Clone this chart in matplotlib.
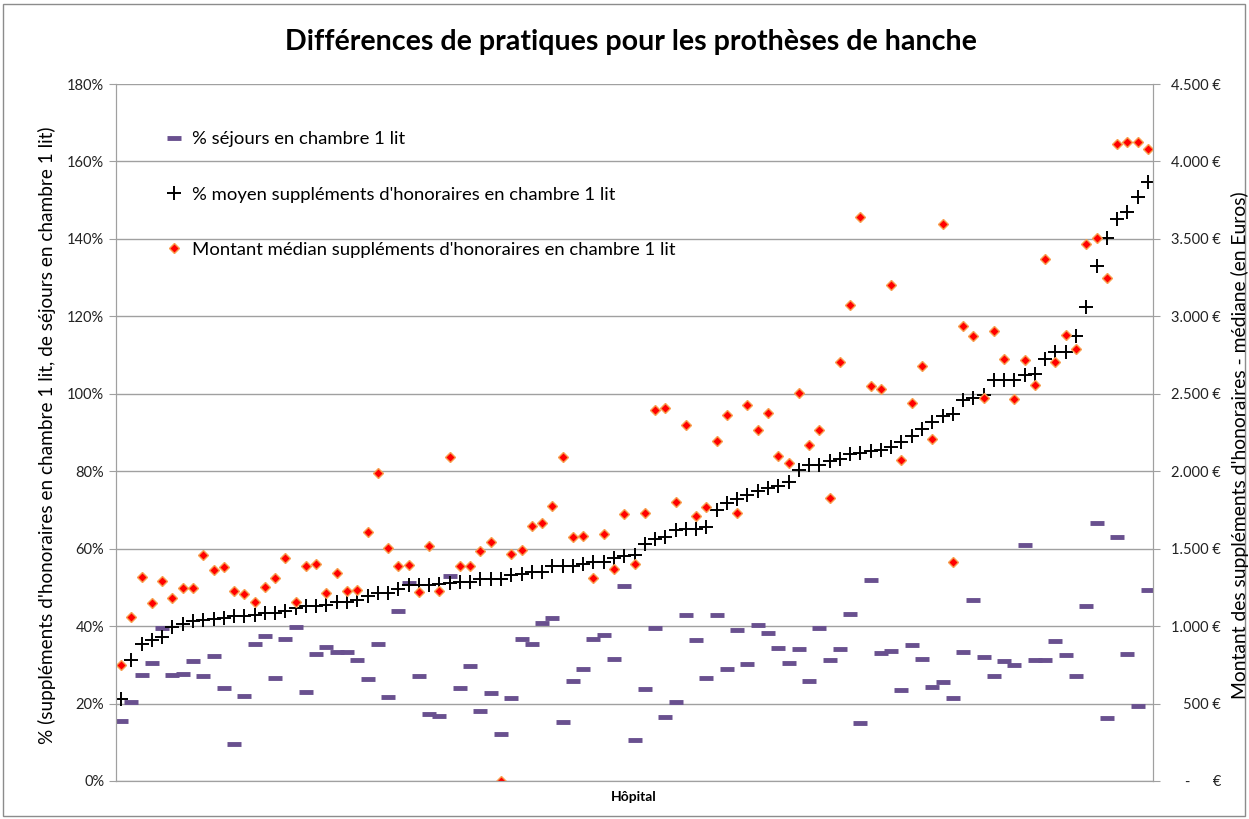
import matplotlib.pyplot as plt
from matplotlib.patches import Rectangle
from matplotlib.ticker import FuncFormatter, MultipleLocator

plt.rcParams['font.family'] = ['Lato', 'DejaVu Sans']

# % séjours en chambre 1 lit
sejours = [15.4, 20.3, 27.3, 30.5, 39.5, 27.5, 27.7, 31.1, 27.1, 32.4,
           23.9, 9.5, 22.0, 35.5, 37.5, 26.6, 36.8, 39.8, 23.0, 32.8,
           34.7, 33.2, 33.4, 31.3, 26.3, 35.5, 21.6, 43.8, 51.2, 27.1,
           17.2, 16.7, 52.9, 23.9, 29.8, 18.2, 22.8, 12.1, 21.4, 36.8,
           35.3, 40.7, 42.1, 15.2, 25.8, 28.8, 36.6, 37.7, 31.4, 50.4,
           10.5, 23.8, 39.5, 16.6, 20.5, 42.8, 36.5, 26.7, 42.8, 29.0,
           39.0, 30.1, 40.3, 38.2, 34.4, 30.6, 34.0, 25.9, 39.5, 31.3,
           34.0, 43.0, 15.1, 51.8, 33.1, 33.6, 23.5, 35.2, 31.4, 24.4,
           25.5, 21.5, 33.3, 46.7, 32.0, 27.2, 31.1, 29.9, 61.0, 31.2,
           31.2, 36.1, 32.6, 27.2, 45.1, 66.6, 16.2, 63.1, 32.8, 19.4,
           49.4]

# % moyen suppléments d'honoraires en chambre 1 lit
moyen = [21.3, 31.2, 35.3, 36.5, 37.3, 39.7, 40.5, 41.4, 41.6, 41.8,
         42.2, 42.7, 42.7, 42.8, 43.3, 43.5, 43.8, 44.8, 45.1, 45.3,
         45.5, 46.1, 46.1, 46.8, 47.8, 48.5, 48.5, 49.7, 50.5, 50.5,
         50.5, 50.9, 51.1, 51.3, 51.5, 52.2, 52.2, 52.2, 53.2, 53.4,
         53.9, 53.9, 55.4, 55.4, 55.4, 56.0, 56.6, 56.6, 57.6, 58.0,
         58.3, 61.2, 62.6, 63.1, 64.8, 65.2, 65.2, 65.7, 69.9, 71.8,
         72.8, 73.8, 75.0, 75.7, 76.2, 77.2, 80.3, 81.7, 81.7, 82.7,
         83.2, 84.5, 84.8, 85.1, 85.5, 86.3, 87.5, 89.2, 90.9, 92.7,
         94.3, 94.9, 98.4, 99.0, 99.8, 103.5, 103.5, 103.5, 104.9, 105.2,
         108.9, 110.9, 110.9, 114.9, 122.5, 133.0, 140.3, 145.2, 146.9, 150.7,
         154.7]

# Montant médian suppléments d'honoraires (€)
montant = [748, 1056, 1315, 1146, 1293, 1179, 1243, 1246, 1459, 1364,
           1379, 1228, 1207, 1153, 1254, 1310, 1437, 1157, 1386, 1401,
           1213, 1343, 1224, 1235, 1605, 1987, 1506, 1390, 1394, 1218,
           1519, 1224, 2095, 1386, 1390, 1483, 1541, 0, 1465, 1493,
           1649, 1666, 1778, 2095, 1573, 1584, 1310, 1595, 1370, 1723,
           1400, 1728, 2395, 2410, 1801, 2301, 1711, 1772, 2192, 2361,
           1728, 2427, 2269, 2374, 2099, 2056, 2502, 2172, 2269, 1828,
           2706, 3070, 3643, 2548, 2531, 3204, 2074, 2438, 2679, 2210,
           3597, 1415, 2938, 2872, 2475, 2906, 2722, 2466, 2716, 2557,
           3367, 2702, 2881, 2787, 3469, 3503, 3247, 4111, 4125, 4128,
           4080]

hopitaux = list(range(1, len(sejours) + 1))

W, H = 1249, 819
fig = plt.figure(figsize=(W / 100, H / 100), dpi=100)
fig.patches.append(Rectangle((3 / W, 3 / H), (W - 7) / W, (H - 7) / H,
                             transform=fig.transFigure, fill=False,
                             edgecolor='#8C8C8C', lw=1))

ax = fig.add_axes([116 / W, 38 / H, 1037 / W, 697 / H])
ax2 = ax.twinx()

grey = '#A0A0A0'
ax.set_xlim(0.5, len(sejours) + 0.5)
ax.set_ylim(0, 180)
ax.yaxis.set_major_locator(MultipleLocator(20))
ax.yaxis.set_major_formatter(FuncFormatter(lambda v, p: f"{int(v)}%"))
ax.yaxis.grid(True, color=grey, lw=1)
ax.set_axisbelow(True)
ax.set_xticks([])

ax2.set_ylim(0, 4500)
ax2.yaxis.set_major_locator(MultipleLocator(500))
ax2.yaxis.set_major_formatter(FuncFormatter(
    lambda v, p: "-      €" if v == 0 else f"{int(v):,} €".replace(',', '.')))

for a in (ax, ax2):
    for s in a.spines.values():
        s.set_color(grey)
    a.spines['top'].set_visible(False)
    a.tick_params(axis='y', length=5, color=grey, labelsize=10.5,
                  labelcolor='#222222')
ax2.tick_params(axis='y', pad=44)
for t in ax2.get_yticklabels():
    t.set_horizontalalignment('right')

l1, = ax.plot(hopitaux, sejours, ls='none', marker='_', ms=10, mew=3.5,
              color='#69508F', label='% séjours en chambre 1 lit')
l2, = ax.plot(hopitaux, moyen, ls='none', marker='+', ms=10, mew=1.4,
              color='black',
              label="% moyen suppléments d'honoraires en chambre 1 lit")
l3, = ax2.plot(hopitaux, montant, ls='none', marker='D', ms=5.5, mew=1,
               markerfacecolor='#FF0000', markeredgecolor='#F7A050',
               label="Montant médian suppléments d'honoraires en chambre 1 lit")

ax2.legend(handles=[l1, l2, l3], loc='upper left', frameon=False,
           bbox_to_anchor=(0.047, 0.932), borderaxespad=0, borderpad=0,
           handlelength=1.0, handletextpad=0.45, labelspacing=2.12,
           fontsize=13.3)

fig.text(631 / W, 1 - 42 / H,
         'Différences de pratiques pour les prothèses de hanche',
         ha='center', va='center', fontsize=20.6, fontweight='bold')
fig.text(634 / W, 1 - 797 / H, 'Hôpital', ha='center', va='center',
         fontsize=10, fontweight='bold')
fig.text(47 / W, 1 - 435 / H,
         "% (suppléments d'honoraires en chambre 1 lit, de séjours en chambre 1 lit)",
         ha='center', va='center', rotation=90, fontsize=13.7)
fig.text(1240 / W, 1 - 445 / H,
         "Montant des suppléments d'honoraires - médiane (en Euros)",
         ha='center', va='center', rotation=90, fontsize=13.9)

fig.savefig('out.png', dpi=100)
